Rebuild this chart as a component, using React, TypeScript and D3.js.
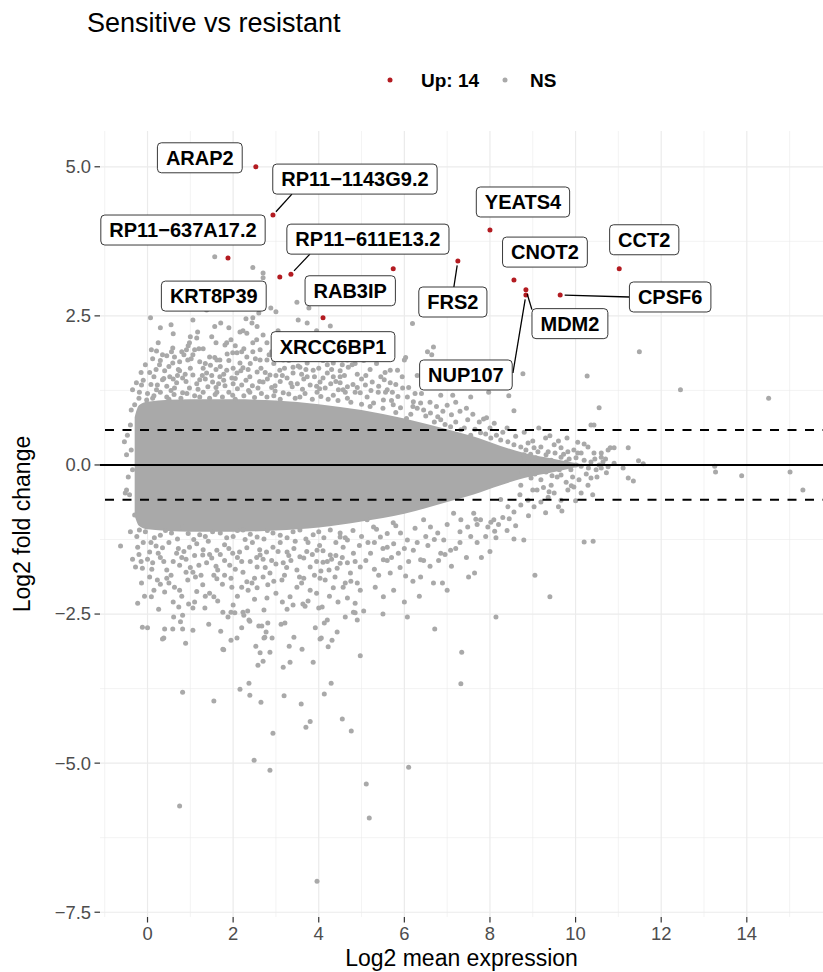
import React from "react";
import * as d3 from "d3";

const W = 823;
const H = 972;
const FONT = "'Liberation Sans', Arial, Helvetica, sans-serif";
const RED = "#B31B21";
const GREY = "#A9A9A9";

// Axis ticks and grid
const xTicks = [0, 2, 4, 6, 8, 10, 12, 14];
const xMinor = [-1, 1, 3, 5, 7, 9, 11, 13, 15];
const yTicks = [-7.5, -5, -2.5, 0, 2.5, 5];
const yTickLabels = ["\u22127.5", "\u22125.0", "\u22122.5", "0.0", "2.5", "5.0"];
const yMinor = [-6.25, -3.75, -1.25, 1.25, 3.75];
const foldCut = 0.585; // log2(1.5)

// Significantly up-regulated genes
const upGenes = [
  "ARAP2", "RP11\u22121143G9.2", "RP11\u2212637A17.2", "KRT8P39", "RP11\u2212611E13.2",
  "RAB3IP", "XRCC6BP1", "FRS2", "YEATS4", "CNOT2", "MDM2", "NUP107", "CPSF6", "CCT2",
];
const upMean = [2.53, 2.93, 1.88, 3.09, 3.35, 5.74, 4.10, 7.25, 8.00, 8.56, 8.84, 8.84, 9.64, 11.02];
const upLfc = [5.00, 4.19, 3.47, 3.15, 3.20, 3.29, 2.47, 3.42, 3.94, 3.10, 2.94, 2.85, 2.85, 3.29];

// Dense body of non-significant genes (mean expression, upper / lower fold-change edge)
const coreMean = [-0.3, -0.2, 0, 1, 2, 3, 4, 5, 6, 7, 7.6, 8.25, 8.8, 9.5, 10.1];
const coreUpper = [0.8, 1.0, 1.06, 1.1, 1.1, 1.08, 1.02, 0.92, 0.78, 0.6, 0.48, 0.32, 0.2, 0.1, 0.02];
const coreLower = [-0.85, -1.02, -1.08, -1.12, -1.12, -1.1, -1.05, -0.95, -0.82, -0.62, -0.5, -0.34, -0.22, -0.12, -0.02];

// Non-significant genes outside the dense body: [log2 mean, log2 fold change]
const nsAboveLeft: [number, number][] = [
  [1.57, 3.49], [2.46, 3.31], [2.70, 3.22], [2.70, 3.14], [2.88, 2.63], [3.49, 2.73], [3.77, 2.63],
  [0.07, 2.47], [1.06, 2.43], [1.71, 2.38], [2.46, 2.47], [3.00, 2.57], [3.52, 2.43], [3.73, 2.38],
  [4.27, 2.33], [2.23, 2.25], [2.32, 2.21], [1.38, 2.60], [1.17, 2.23], [1.15, 2.13], [0.98, 2.05],
  [0.91, 1.93], [1.10, 1.93], [0.09, 1.93], [0.21, 1.91], [0.59, 1.96], [1.57, 1.80], [1.69, 1.76],
  [2.09, 1.88], [2.16, 1.71], [2.46, 2.05], [2.63, 1.93], [2.79, 1.76],
  [0.45, 1.83], [0.56, 1.90], [0.63, 1.81], [0.28, 1.68], [0.59, 1.71], [0.75, 1.73], [0.94, 1.76],
  [1.06, 1.85], [1.22, 1.73], [1.45, 1.81], [1.62, 1.76], [1.81, 2.01], [1.85, 2.05], [1.57, 2.32],
  [2.16, 2.23], [2.44, 2.38], [2.56, 2.32], [2.70, 2.18], [2.79, 2.05], [1.99, 1.88], [2.32, 1.81],
  [2.46, 1.90], [2.63, 1.76],
  [-0.26, 1.38], [-0.14, 1.34], [-0.35, 1.26], [-0.19, 1.22], [-0.02, 1.09], [0.12, 1.12], [0.23, 1.34],
  [0.35, 1.43], [0.52, 1.48], [0.68, 1.38], [0.82, 1.46], [-0.38, 0.92], [-0.30, 1.01],
  [1.06, 1.51], [1.22, 1.43], [1.38, 1.54], [1.52, 1.39], [1.69, 1.48], [1.85, 1.59], [1.97, 1.46],
  [2.09, 1.54], [2.23, 1.63], [2.39, 1.48], [2.56, 1.56], [2.70, 1.39], [2.86, 1.51], [3.09, 1.59],
  [3.26, 1.46], [3.40, 1.54], [3.56, 1.64], [3.73, 1.48], [3.87, 1.59], [4.03, 1.39], [4.20, 1.54],
  [4.34, 1.48], [4.50, 1.38], [4.67, 1.31],
  [3.17, 1.76], [3.40, 1.64], [3.56, 1.80], [3.73, 1.71], [3.96, 1.80], [4.20, 1.68], [4.34, 1.71],
  [4.57, 1.85], [4.67, 1.76],
  [0.45, 1.14], [0.82, 1.21], [1.22, 1.14], [1.62, 1.22], [1.99, 1.17], [2.39, 1.22], [2.79, 1.14],
  [3.17, 1.21], [3.56, 1.14], [3.96, 1.22], [4.34, 1.17],
  [0.21, 1.26], [0.63, 1.29], [0.98, 1.29], [1.41, 1.31], [1.81, 1.33], [2.20, 1.34], [2.58, 1.29],
  [2.98, 1.33], [3.38, 1.31], [3.80, 1.34], [4.15, 1.29], [4.46, 1.26], [4.85, 1.22],
  [-0.2, 1.12], [0.0, 1.2], [0.15, 1.16], [0.3, 1.22], [0.5, 1.1], [0.62, 1.18], [0.78, 1.12],
  [0.92, 1.2], [1.1, 1.16], [1.3, 1.22], [1.45, 1.12], [1.58, 1.18], [1.75, 1.14], [1.9, 1.22],
  [2.05, 1.1], [2.25, 1.16], [2.5, 1.13], [2.66, 1.2], [2.95, 1.16], [3.1, 1.1], [3.3, 1.19],
  [3.45, 1.12], [3.68, 1.2], [3.85, 1.1], [4.05, 1.15], [4.22, 1.1], [4.45, 1.08], [4.75, 1.05],
  [5.0, 1.02], [5.2, 0.98],
  [-0.1, 1.42], [0.08, 1.35], [0.45, 1.32], [0.6, 1.44], [0.9, 1.4], [1.15, 1.36], [1.35, 1.44],
  [1.6, 1.3], [1.78, 1.42], [2.0, 1.36], [2.3, 1.42], [2.45, 1.33], [2.8, 1.44], [2.9, 1.3],
  [3.1, 1.4], [3.5, 1.36], [3.65, 1.44], [3.95, 1.32], [4.1, 1.46], [4.4, 1.4], [4.8, 1.35],
  [5.0, 1.44], [5.4, 1.32], [5.85, 1.15], [6.2, 0.98],
  [0.05, 1.55], [0.2, 1.6], [0.4, 1.58], [0.72, 1.6], [0.88, 1.52], [1.3, 1.62], [1.6, 1.6],
  [1.78, 1.52], [2.0, 1.62], [2.35, 1.6], [2.65, 1.62], [3.0, 1.5], [3.2, 1.62], [3.6, 1.52],
  [4.0, 1.62], [4.5, 1.58], [4.9, 1.52], [5.2, 1.6],
  [0.35, 1.85], [0.8, 1.9], [1.3, 1.95], [1.95, 2.1], [2.25, 1.95], [2.9, 1.9], [3.25, 1.95],
  [3.5, 2.1], [3.9, 2.0], [4.4, 1.95], [5.3, 1.85], [5.0, 2.05], [0.6, 2.2], [1.5, 2.15], [3.05, 2.25],
  [-0.15, 1.55], [0.15, 1.48], [0.3, 1.75], [0.5, 1.65], [0.7, 1.5], [0.85, 1.85], [1.0, 1.62],
  [1.2, 1.95], [1.35, 1.7], [1.5, 1.5], [1.7, 1.65], [1.9, 1.75], [2.05, 1.45], [2.2, 1.9],
  [2.4, 1.7], [2.55, 2.1], [2.75, 1.55], [2.95, 1.7], [3.05, 1.95], [3.3, 1.75], [3.45, 1.9],
  [3.7, 1.6], [3.85, 1.9], [4.1, 1.75], [4.3, 1.6], [4.45, 2.05], [4.6, 1.5], [4.85, 1.7],
  [0.25, 2.05], [0.55, 2.35], [1.0, 2.15], [1.9, 2.3], [2.6, 2.55], [3.35, 2.15], [3.95, 2.25],
  [-0.05, 1.68], [0.12, 1.78], [0.38, 1.45], [0.55, 1.25], [0.75, 1.58], [1.02, 1.78], [1.18, 1.27],
  [1.28, 1.5], [1.47, 1.67], [1.66, 1.36], [1.86, 1.86], [2.1, 1.28], [2.18, 1.58], [2.36, 1.25],
  [2.52, 1.78], [2.62, 1.4], [2.84, 1.85], [2.98, 1.24], [3.15, 1.5], [3.35, 1.37], [3.52, 1.66],
  [3.62, 1.27], [3.8, 1.85], [3.9, 1.48], [4.02, 1.28], [4.18, 1.92], [4.28, 1.36], [4.55, 1.68],
  [4.62, 1.22], [0.95, 2.0], [1.6, 2.05], [2.05, 2.0], [3.6, 2.05], [4.1, 2.15], [2.3, 2.45], [0.3, 2.3],
];

const nsAboveRight: [number, number][] = [
  [4.69, 1.64], [4.78, 1.68], [4.50, 1.48], [4.57, 1.26], [4.67, 1.12], [5.09, 1.34], [5.25, 1.39],
  [5.39, 1.22], [5.60, 1.26], [5.72, 1.22], [5.67, 1.59], [5.84, 1.59], [5.96, 1.29], [6.07, 1.14],
  [6.21, 1.06], [6.38, 1.04], [4.97, 1.21], [5.13, 1.14], [5.28, 1.04], [5.51, 1.09], [5.74, 1.01],
  [5.91, 0.96], [6.45, 0.92], [6.61, 0.87], [6.78, 0.81], [6.85, 0.76],
  [7.08, 0.64], [7.32, 0.59], [7.55, 0.50], [7.78, 0.54], [8.02, 0.45], [8.25, 0.42], [8.42, 0.39],
  [8.56, 0.34], [8.72, 0.30], [8.89, 0.37], [9.03, 0.29], [9.19, 0.30], [9.36, 0.22], [9.50, 0.34],
  [9.66, 0.29], [9.82, 0.22], [9.96, 0.25], [10.13, 0.20], [10.29, 0.30], [10.43, 0.20], [10.60, 0.13],
  [10.76, 0.25],
  [6.19, 2.37], [6.68, 1.98], [6.54, 1.90], [6.64, 1.85], [6.00, 1.76], [5.53, 1.43], [5.67, 1.38],
  [5.56, 1.22], [8.77, 1.53], [10.27, 1.49], [11.49, 1.90], [12.45, 1.26], [14.51, 1.12], [6.85, 1.17],
  [7.13, 1.17], [7.55, 1.14], [7.97, 1.22], [8.44, 1.16], [8.56, 0.91], [7.48, 0.76], [7.85, 0.77],
  [7.92, 0.79], [9.14, 0.62], [9.40, 0.49], [10.36, 0.67], [10.43, 0.67], [10.55, 0.96], [6.03, 1.80],
  [6.30, 0.95], [6.50, 0.82], [6.70, 0.72], [6.95, 0.68], [7.20, 0.72], [7.40, 0.62], [7.65, 0.60],
  [7.90, 0.52], [8.15, 0.50], [6.15, 0.85], [6.90, 0.90], [7.10, 0.84], [5.50, 0.95], [5.80, 0.88],
  [6.05, 0.78],
  [5.1, 1.5], [5.35, 1.7], [5.55, 1.55], [5.8, 1.35], [6.1, 1.3], [6.3, 1.5], [4.75, 2.0], [5.5, 1.95],
  [6.4, 1.2], [6.6, 1.05], [7.0, 1.0], [7.3, 0.9], [7.6, 0.85], [8.1, 0.7], [8.4, 0.62], [8.8, 0.55],
  [9.3, 0.45], [9.8, 0.45], [10.05, 0.38],
  [4.9, 1.3], [5.05, 1.75], [5.22, 1.25], [5.45, 1.48], [5.7, 1.08], [5.95, 1.48], [6.25, 1.2],
  [6.55, 1.45], [6.75, 0.98], [7.2, 1.05], [7.45, 0.95], [7.75, 0.72], [8.0, 0.62], [8.3, 0.55],
  [8.6, 0.48],
];

const nsMiddle: [number, number][] = [
  [8.79, 0.17], [8.89, 0.05], [8.96, -0.08], [9.07, 0.12], [9.19, 0.00], [9.31, -0.12], [9.43, 0.08],
  [9.54, -0.05], [9.66, -0.17], [9.78, 0.05], [9.89, -0.08], [10.01, 0.12], [10.13, -0.02], [10.25, -0.15],
  [10.36, 0.05], [10.48, -0.08], [9.19, -0.25], [9.43, -0.34], [9.78, -0.29], [10.08, -0.25], [8.96, -0.22],
  [8.84, 0.25], [9.31, 0.17], [9.66, 0.13], [10.01, 0.00], [10.36, -0.22], [10.55, 0.00], [9.10, -0.42],
  [9.38, -0.45], [8.72, -0.34], [9.57, -0.20],
  [8.7, 0.1], [8.75, -0.12], [8.85, -0.05], [8.95, 0.18], [9.05, -0.15], [9.12, 0.22], [9.25, 0.08],
  [9.35, 0.0], [9.45, -0.18], [9.52, 0.2], [9.62, -0.08], [9.72, 0.18], [9.85, 0.1], [9.93, -0.2],
  [10.05, 0.2], [10.2, 0.08], [10.3, -0.05], [10.45, 0.1], [9.0, 0.4], [9.6, 0.4], [10.2, 0.35],
  [9.9, -0.35], [10.7, 0.1], [10.5, -0.2],
  [11.23, 0.29], [10.81, 0.29], [10.90, 0.29], [10.60, 0.20], [10.64, 0.05], [10.76, -0.03], [10.72, -0.13],
  [10.60, -0.05], [10.90, 0.03], [11.11, -0.05], [11.23, -0.22], [11.35, -0.27], [11.47, 0.07], [11.58, 0.02],
  [13.25, -0.02], [13.27, -0.12], [13.88, -0.18], [15.01, -0.12], [15.31, -0.42],
  [-0.54, 0.39], [-0.49, 0.17], [-0.38, 0.25], [-0.45, -0.20], [-0.35, -0.08], [-0.49, -0.42], [-0.42, -0.50],
  [-0.52, -0.47], [-0.40, 0.67], [-0.47, 0.50], [-0.30, -0.84],
];

const nsBelow: [number, number][] = [
  [-0.19, -1.09], [0.16, -1.22], [0.56, -1.14], [0.82, -1.04], [1.22, -1.17], [1.52, -1.12], [1.85, -1.22],
  [2.23, -1.09], [2.56, -1.21], [2.93, -1.14], [3.26, -1.22], [3.56, -1.09], [3.87, -1.17], [4.27, -1.09],
  [4.50, -1.21],
  [-0.23, -1.38], [0.05, -1.46], [0.35, -1.39], [0.68, -1.48], [0.98, -1.38], [1.29, -1.51], [1.62, -1.43],
  [1.99, -1.48], [2.32, -1.39], [2.63, -1.51], [2.93, -1.38], [3.26, -1.46], [3.56, -1.54], [3.96, -1.43],
  [4.27, -1.51], [4.57, -1.38],
  [-0.12, -1.73], [0.12, -1.64], [0.45, -1.76], [0.75, -1.68], [1.06, -1.80], [1.38, -1.64], [1.64, -1.76],
  [1.92, -1.68], [2.23, -1.80], [2.56, -1.71], [2.86, -1.81], [3.17, -1.64], [3.49, -1.76], [3.80, -1.71],
  [4.10, -1.63], [4.43, -1.73], [4.67, -1.64],
  [-0.14, -1.98], [0.23, -1.93], [0.63, -2.05], [0.94, -1.93], [1.29, -2.01], [1.62, -1.91], [1.97, -2.05],
  [2.32, -1.96], [2.56, -2.06], [2.81, -2.01], [3.14, -1.93], [3.49, -2.05], [3.80, -2.10], [4.15, -1.93],
  [4.34, -2.06], [4.62, -1.98],
  [-0.25, -1.2], [-0.05, -1.12], [0.3, -1.18], [0.42, -1.1], [0.7, -1.24], [0.95, -1.15], [1.08, -1.25],
  [1.35, -1.2], [1.7, -1.14], [2.0, -1.2], [2.1, -1.1], [2.4, -1.16], [2.72, -1.24], [2.8, -1.1],
  [3.1, -1.18], [3.4, -1.12], [3.7, -1.24], [4.0, -1.12], [4.12, -1.22], [4.4, -1.3], [4.8, -1.1],
  [5.0, -1.2], [5.35, -1.08], [5.6, -1.15], [5.8, -1.02], [6.25, -1.06], [6.5, -1.2], [7.0, -1.0],
  [7.3, -1.12], [7.7, -1.0], [8.3, -0.88], [8.6, -1.02], [8.25, -0.58], [8.7, -0.5], [9.0, -0.42],
  [9.25, -0.38],
  [-0.1, -1.3], [0.2, -1.36], [0.5, -1.3], [0.85, -1.45], [1.15, -1.32], [1.45, -1.5], [1.8, -1.34],
  [2.15, -1.46], [2.45, -1.3], [2.78, -1.46], [3.1, -1.3], [3.42, -1.4], [3.75, -1.3], [4.1, -1.44],
  [4.4, -1.52], [4.95, -1.35], [5.3, -1.3], [5.75, -1.32], [6.1, -1.62], [6.55, -1.35], [7.3, -1.3],
  [7.9, -1.2],
  [0.0, -1.58], [0.3, -1.55], [0.6, -1.62], [0.9, -1.58], [1.2, -1.68], [1.5, -1.56], [1.8, -1.6],
  [2.1, -1.55], [2.4, -1.62], [2.7, -1.58], [3.0, -1.66], [3.35, -1.6], [3.65, -1.56], [3.95, -1.62],
  [4.3, -1.58], [4.55, -1.55], [5.6, -1.6], [6.6, -1.7],
  [0.05, -1.88], [0.45, -1.9], [0.75, -2.1], [1.12, -1.88], [1.45, -2.15], [1.8, -1.85], [2.1, -2.2],
  [2.7, -1.88], [3.0, -2.15], [3.65, -1.9], [3.95, -2.15], [4.45, -2.3], [5.05, -2.45], [5.75, -2.1],
  [6.35, -2.2],
  [-0.2, -1.5], [0.1, -1.75], [0.25, -1.48], [0.55, -1.85], [0.8, -1.55], [1.0, -1.72], [1.3, -1.42],
  [1.55, -1.85], [1.7, -1.5], [1.95, -1.9], [2.2, -1.62], [2.5, -1.9], [2.62, -1.42], [2.9, -1.6],
  [3.2, -1.85], [3.3, -1.52], [3.6, -1.98], [3.85, -1.5], [4.05, -1.78], [4.25, -2.2], [4.5, -1.65],
  [4.75, -1.95], [5.1, -1.6], [5.4, -1.85], [5.9, -1.72], [6.2, -1.95], [6.8, -1.6], [7.1, -1.7],
  [7.45, -1.55], [0.15, -2.1], [0.6, -2.3], [1.35, -2.2], [2.0, -2.35], [2.5, -2.25], [3.4, -2.35],
  [3.75, -2.28], [4.9, -2.6], [5.5, -2.5], [6.0, -2.3], [7.7, -1.3], [8.0, -1.45], [8.4, -1.1],
  [8.9, -0.85], [9.3, -0.8], [9.6, -0.7], [10.0, -0.6], [10.4, -0.5], [7.0, -2.1],
  [-0.15, -1.62], [0.08, -1.3], [0.38, -1.62], [0.5, -1.98], [0.72, -1.4], [0.9, -1.8], [1.1, -1.52],
  [1.25, -1.85], [1.42, -1.28], [1.6, -1.7], [1.75, -2.0], [1.9, -1.4], [2.05, -1.75], [2.28, -1.25],
  [2.35, -2.1], [2.55, -1.55], [2.75, -1.72], [2.95, -1.95], [3.05, -1.45], [3.25, -1.72], [3.45, -1.28],
  [3.55, -1.88], [3.72, -1.45], [3.9, -1.85], [4.02, -1.35], [4.2, -1.62], [4.38, -1.88], [4.62, -1.22],
  [4.85, -1.62], [5.15, -1.3], [5.3, -1.75], [5.5, -1.4], [5.7, -1.55], [6.0, -1.4], [6.3, -1.3],
  [6.45, -1.6], [6.7, -1.25], [6.95, -1.5], [7.2, -1.4], [7.55, -1.2], [7.8, -1.55], [8.2, -1.0],
  [8.45, -0.9], [1.15, -2.12], [2.2, -2.05], [3.15, -2.3], [4.0, -2.4], [0.3, -2.0],
  [4.50, -1.14], [4.67, -1.26], [4.81, -1.48], [4.97, -1.71], [4.74, -1.81], [4.57, -2.05], [4.90, -1.98],
  [4.97, -2.10], [5.13, -0.92], [5.28, -1.04], [5.44, -1.21], [5.60, -1.38], [5.21, -1.48], [5.51, -1.59],
  [5.67, -1.81], [5.74, -0.97], [5.91, -1.14], [6.07, -1.26], [6.21, -1.43], [6.38, -1.59], [5.86, -1.48],
  [6.45, -0.92], [6.61, -1.04], [6.78, -1.14], [6.92, -1.26], [7.08, -1.43], [6.85, -1.48], [7.15, -0.81],
  [7.32, -0.92], [7.48, -1.04], [7.62, -0.81], [7.78, -0.92], [7.95, -1.04], [8.09, -0.92], [8.42, -0.70],
  [8.56, -0.79], [8.72, -0.67], [8.89, -0.59], [9.03, -0.70], [9.19, -0.62], [9.36, -0.54], [9.50, -0.47],
  [9.66, -0.59], [9.82, -0.42], [9.96, -0.37], [10.13, -0.47], [10.29, -0.34],
  [9.68, -0.77], [10.20, -1.29], [10.41, -1.28], [9.40, -2.21], [9.05, -1.85], [8.56, -1.24], [8.79, -1.26],
  [8.14, -1.22], [8.11, -1.11], [8.02, -0.96], [7.67, -0.91], [7.50, -1.88], [7.64, -1.81], [6.07, -2.55],
  [8.14, -2.55], [6.68, -1.98], [6.89, -1.98], [6.38, -1.88], [6.03, -1.86], [5.51, -2.21], [4.85, -2.32],
  [4.81, -2.47], [5.32, -2.05],
];

const nsDeepBelow: [number, number][] = [
  [-0.63, -1.36], [-0.40, -1.12], [-0.35, -1.58], [-0.28, -1.71], [-0.23, -2.32], [-0.12, -2.72], [0.00, -2.73],
  [-0.07, -2.20], [0.09, -2.21], [0.26, -2.42], [0.40, -2.13], [0.40, -2.75], [0.38, -2.90], [0.59, -2.75],
  [0.61, -2.55], [0.73, -2.38], [0.77, -2.63], [0.82, -2.52], [0.80, -2.20], [0.82, -2.75], [0.89, -2.99],
  [0.96, -2.33], [1.06, -2.40], [1.10, -2.30], [1.06, -2.77], [1.34, -2.40], [1.43, -2.67], [1.55, -2.21],
  [1.71, -2.79], [1.76, -3.09], [1.88, -2.55], [1.95, -2.94], [2.04, -2.48], [2.09, -2.90], [2.20, -2.73],
  [2.23, -2.47], [2.37, -2.60], [2.44, -1.98], [2.53, -3.04], [2.58, -3.36], [2.63, -3.15], [2.70, -3.29],
  [2.74, -2.89], [2.60, -2.70], [2.67, -2.70], [2.81, -2.65], [2.86, -3.14], [2.91, -2.90], [2.79, -2.23],
  [2.72, -2.43], [3.17, -3.39], [3.12, -2.67], [3.31, -3.04], [3.33, -3.31], [3.42, -2.89], [3.26, -2.42],
  [3.33, -2.21], [3.61, -3.09], [3.63, -2.33], [3.87, -3.31], [3.92, -2.73], [4.08, -2.38], [4.06, -2.90],
  [4.20, -2.60], [4.22, -3.05], [4.31, -2.94], [4.43, -2.80], [4.62, -2.55], [4.67, -2.23], [4.24, -1.76],
  [4.03, -1.90],
  [0.35, -2.92], [0.82, -3.81], [0.75, -5.72], [1.55, -3.96], [1.64, -2.28], [1.78, -3.10], [1.76, -2.47],
  [1.95, -2.47], [2.16, -3.76], [2.25, -2.52], [2.34, -2.45], [2.37, -3.66], [2.39, -3.86], [2.49, -4.95],
  [2.39, -2.62], [2.65, -3.98], [2.72, -2.90], [2.77, -2.80], [2.86, -5.12], [2.93, -4.50], [3.21, -2.65],
  [3.19, -3.87], [3.59, -4.01], [3.68, -2.37], [3.70, -4.40], [3.80, -4.30], [3.96, -6.98], [4.03, -2.92],
  [4.13, -3.84], [4.13, -2.65], [4.29, -3.66], [4.55, -4.26], [4.76, -4.46], [4.85, -2.48], [4.97, -3.20],
  [5.11, -5.35], [5.18, -5.92], [6.10, -5.07], [6.71, -2.75], [7.34, -3.14], [7.32, -3.67],
];

// Label placement: box centre offset and optional leader end, in pixels from the point
const labelPlacement: { dx: number; dy: number; seg?: [number, number] }[] = [
  { dx: -56, dy: -9 },
  { dx: 82, dy: -36, seg: [19, -21] },
  { dx: -45, dy: -28 },
  { dx: -66, dy: 19 },
  { dx: 77, dy: -35, seg: [19, -20] },
  { dx: -43, dy: 22 },
  { dx: 10, dy: 29 },
  { dx: -5, dy: 41, seg: [-4, 26] },
  { dx: 33, dy: -28 },
  { dx: 31, dy: -28 },
  { dx: 44, dy: 34, seg: [6, 20] },
  { dx: -60, dy: 80, seg: [-13, 78] },
  { dx: 110, dy: 2, seg: [69, 2] },
  { dx: 25, dy: -29 },
];

const LABEL_FONT_SIZE = 20;

let measureCtx: CanvasRenderingContext2D | null = null;
function textWidth(text: string, font: string): number {
  if (!measureCtx) measureCtx = document.createElement("canvas").getContext("2d");
  if (!measureCtx) return text.length * 12;
  measureCtx.font = font;
  return measureCtx.measureText(text).width;
}

export default function App() {
  const left = 100;
  const right = 823;
  const top = 131;
  const bottom = 917;

  const x = d3.scaleLinear().domain([-1.11, 15.78]).range([left, right]);
  const y = d3.scaleLinear().domain([-7.58, 5.6]).range([bottom, top]);

  const coreArea = d3
    .area<number>()
    .x((d) => x(d))
    .y0((_, i) => y(coreLower[i]))
    .y1((_, i) => y(coreUpper[i]))
    .curve(d3.curveMonotoneX);

  const nsPoints = [...nsAboveLeft, ...nsAboveRight, ...nsMiddle, ...nsBelow, ...nsDeepBelow];
  const labelFont = `bold ${LABEL_FONT_SIZE}px ${FONT}`;

  return (
    <svg
      width={W}
      height={H}
      viewBox={`0 0 ${W} ${H}`}
      style={{ position: "absolute", left: 0, top: 0, background: "#fff", display: "block" }}
      fontFamily={FONT}
    >
      <defs>
        <clipPath id="panel">
          <rect x={left} y={top} width={right - left} height={bottom - top} />
        </clipPath>
      </defs>

      {/* title */}
      <text x={87} y={32} fontSize={27} fill="#000">
        Sensitive vs resistant
      </text>

      {/* legend */}
      <g>
        <circle cx={390} cy={80} r={2.5} fill={RED} />
        <text x={421} y={87} fontSize={19} fontWeight="bold" fill="#000">
          Up: 14
        </text>
        <circle cx={505} cy={80} r={2.5} fill={GREY} />
        <text x={530} y={87} fontSize={19} fontWeight="bold" fill="#000">
          NS
        </text>
      </g>

      {/* grid */}
      <g clipPath="url(#panel)">
        {xMinor.map((v) => (
          <line key={`xm${v}`} x1={x(v)} x2={x(v)} y1={top} y2={bottom} stroke="#EBEBEB" strokeWidth={0.6} />
        ))}
        {yMinor.map((v) => (
          <line key={`ym${v}`} x1={left} x2={right} y1={y(v)} y2={y(v)} stroke="#EBEBEB" strokeWidth={0.6} />
        ))}
        {xTicks.map((v) => (
          <line key={`xg${v}`} x1={x(v)} x2={x(v)} y1={top} y2={bottom} stroke="#EBEBEB" strokeWidth={1.2} />
        ))}
        {yTicks.map((v) => (
          <line key={`yg${v}`} x1={left} x2={right} y1={y(v)} y2={y(v)} stroke="#EBEBEB" strokeWidth={1.2} />
        ))}
      </g>

      {/* points */}
      <g clipPath="url(#panel)">
        <path d={coreArea(coreMean) ?? ""} fill={GREY} />
        {nsPoints.map((p, i) => (
          <circle key={`ns${i}`} cx={x(p[0])} cy={y(p[1])} r={2.5} fill={GREY} />
        ))}
        {upGenes.map((g, i) => (
          <circle key={`up${g}`} cx={x(upMean[i])} cy={y(upLfc[i])} r={2.5} fill={RED} />
        ))}
      </g>

      {/* reference lines */}
      <g clipPath="url(#panel)">
        <line x1={left} x2={right} y1={y(0)} y2={y(0)} stroke="#000" strokeWidth={2} />
        {[foldCut, -foldCut].map((v) => (
          <line
            key={`fc${v}`}
            x1={left}
            x2={right}
            y1={y(v)}
            y2={y(v)}
            stroke="#000"
            strokeWidth={2}
            strokeDasharray="9 8.5"
            strokeDashoffset={-5}
          />
        ))}
      </g>

      {/* labels */}
      <g>
        {upGenes.map((g, i) => {
          const px = x(upMean[i]);
          const py = y(upLfc[i]);
          const pl = labelPlacement[i];
          const cx = px + pl.dx;
          const cy = py + pl.dy;
          const w = textWidth(g, labelFont) + 17;
          const h = 30;
          let seg = null;
          if (pl.seg) {
            const ex = px + pl.seg[0];
            const ey = py + pl.seg[1];
            const len = Math.hypot(ex - px, ey - py);
            const sx = px + ((ex - px) / len) * 4.5;
            const sy = py + ((ey - py) / len) * 4.5;
            seg = <line x1={sx} y1={sy} x2={ex} y2={ey} stroke="#000" strokeWidth={1.3} />;
          }
          return (
            <g key={`lab${g}`}>
              {seg}
              <rect
                x={cx - w / 2}
                y={cy - h / 2}
                width={w}
                height={h}
                rx={4}
                ry={4}
                fill="#fff"
                stroke="#222"
                strokeWidth={0.9}
              />
              <text x={cx} y={cy + 7.2} textAnchor="middle" fontSize={LABEL_FONT_SIZE} fontWeight="bold" fill="#000">
                {g}
              </text>
            </g>
          );
        })}
      </g>

      {/* y axis */}
      <g>
        {yTicks.map((v, i) => (
          <g key={`yt${v}`}>
            <line x1={left - 5.5} x2={left} y1={y(v)} y2={y(v)} stroke="#333" strokeWidth={1.2} />
            <text x={left - 9} y={y(v)} dy="0.35em" textAnchor="end" fontSize={18.4} fill="#4D4D4D">
              {yTickLabels[i]}
            </text>
          </g>
        ))}
        <text
          transform={`translate(22, ${(top + bottom) / 2}) rotate(-90)`}
          textAnchor="middle"
          dy="0.35em"
          fontSize={23}
          fill="#000"
        >
          Log2 fold change
        </text>
      </g>

      {/* x axis */}
      <g>
        {xTicks.map((v) => (
          <g key={`xt${v}`}>
            <line x1={x(v)} x2={x(v)} y1={bottom} y2={bottom + 5.5} stroke="#333" strokeWidth={1.2} />
            <text x={x(v)} y={bottom + 23} textAnchor="middle" fontSize={18.4} fill="#4D4D4D">
              {v}
            </text>
          </g>
        ))}
        <text x={(left + right) / 2} y={966} textAnchor="middle" fontSize={23} fill="#000">
          Log2 mean expression
        </text>
      </g>
    </svg>
  );
}
